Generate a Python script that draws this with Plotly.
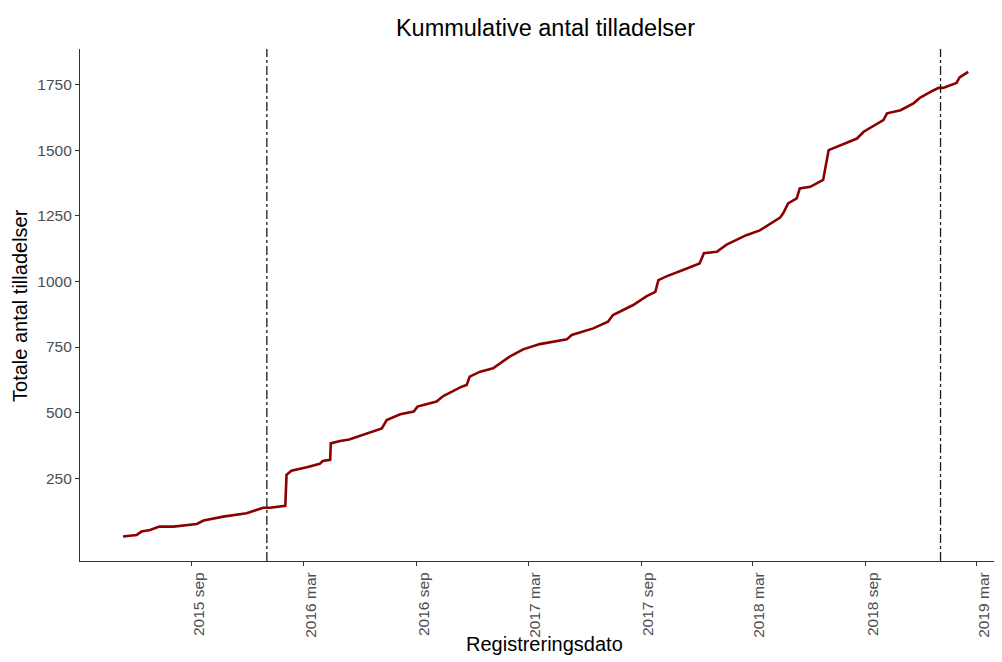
import plotly.graph_objects as go

# cumulative number of permits
dates = [
    "2015-05-12", "2015-06-03", "2015-06-11", "2015-06-25", "2015-07-10", "2015-08-02",
    "2015-09-09", "2015-09-20", "2015-10-22", "2015-11-29", "2015-12-15", "2015-12-26",
    "2016-01-06", "2016-01-31", "2016-02-02", "2016-02-10", "2016-03-06", "2016-03-27",
    "2016-04-01", "2016-04-13", "2016-04-14", "2016-04-29", "2016-05-14", "2016-06-11",
    "2016-07-06", "2016-07-14", "2016-08-05", "2016-08-27", "2016-09-02", "2016-10-03",
    "2016-10-14", "2016-11-13", "2016-11-21", "2016-11-26", "2016-12-13", "2017-01-03",
    "2017-01-30", "2017-02-21", "2017-03-20", "2017-05-03", "2017-05-11", "2017-06-15",
    "2017-07-09", "2017-07-17", "2017-08-19", "2017-09-10", "2017-09-24", "2017-09-29",
    "2017-10-13", "2017-11-08", "2017-12-05", "2017-12-12", "2018-01-02", "2018-01-18",
    "2018-02-19", "2018-03-13", "2018-04-15", "2018-04-20", "2018-04-28", "2018-05-12",
    "2018-05-17", "2018-06-03", "2018-06-24", "2018-07-03", "2018-07-16", "2018-08-18",
    "2018-08-29", "2018-09-30", "2018-10-06", "2018-10-28", "2018-11-18", "2018-11-29",
    "2018-12-21", "2018-12-29", "2019-01-05", "2019-01-27", "2019-02-01", "2019-02-15",
]
totals = [
    28, 34, 47, 53, 66, 66,
    76, 89, 104, 117, 129, 138,
    138, 145, 263, 279, 292, 305,
    316, 320, 383, 392, 398, 421,
    440, 472, 494, 504, 523, 542,
    563, 599, 605, 637, 656, 669,
    713, 741, 761, 779, 796, 821,
    846, 872, 910, 944, 960, 1005,
    1020, 1043, 1068, 1107, 1113, 1140,
    1176, 1194, 1243, 1259, 1297, 1316,
    1354, 1360, 1386, 1500, 1512, 1544,
    1570, 1614, 1640, 1652, 1678, 1700,
    1728, 1737, 1737, 1756, 1777, 1798,
]

marker_dates = ["2016-01-01", "2019-01-01"]

tick_dates = ["2015-09-01", "2016-03-01", "2016-09-01", "2017-03-01",
              "2017-09-01", "2018-03-01", "2018-09-01", "2019-03-01"]
tick_text = ["2015 sep", "2016 mar", "2016 sep", "2017 mar",
             "2017 sep", "2018 mar", "2018 sep", "2019 mar"]
y_ticks = [250, 500, 750, 1000, 1250, 1500, 1750]

fig = go.Figure()

fig.add_trace(go.Scatter(
    x=dates, y=totals, mode="lines",
    line=dict(color="#8B0000", width=2.6),
    showlegend=False, hoverinfo="x+y",
))

for d in marker_dates:
    fig.add_vline(x=d, line=dict(color="#1a1a1a", width=1.3, dash="dashdot"))

font = "Liberation Sans, Arial, sans-serif"

# page body has an 8px margin, so the figure is 8px smaller and margins shifted
fig.update_layout(
    width=994, height=654,
    margin=dict(l=72, r=0, t=41, b=101),
    paper_bgcolor="white", plot_bgcolor="white",
    font=dict(family=font, color="black"),
    title=dict(text="Kummulative antal tilladelser", x=0.5407, xanchor="center",
               y=0.9702, yanchor="middle", yref="container",
               font=dict(size=23.5, color="black")),
    showlegend=False,
)

# axis titles as annotations so the margins stay fixed
fig.add_annotation(text="Registreringsdato", xref="paper", yref="paper",
                   x=0.5043, y=-0.162, xanchor="center", yanchor="middle",
                   showarrow=False, font=dict(size=20, color="black"))
fig.add_annotation(text="Totale antal tilladelser", xref="paper", yref="paper",
                   x=-0.0651, y=0.5, xanchor="center", yanchor="middle", textangle=-90,
                   showarrow=False, font=dict(size=20, color="black"))

fig.update_xaxes(
    range=["2015-03-03", "2019-04-11"], automargin=False,
    tickvals=tick_dates, ticktext=tick_text, tickangle=-90, ticklabelshift=7,
    tickfont=dict(size=15.5, color="#4d4d4d"),
    ticks="outside", ticklen=4, tickwidth=1, tickcolor="#333333",
    showline=True, linecolor="#333333", linewidth=1.2,
    showgrid=False, zeroline=False,
)

fig.update_yaxes(
    range=[-65, 1885], automargin=False,
    tickvals=y_ticks,
    tickfont=dict(size=15.5, color="#4d4d4d"),
    ticks="outside", ticklen=4, tickwidth=1, tickcolor="#333333",
    showline=True, linecolor="#333333", linewidth=1.2,
    showgrid=False, zeroline=False,
)

fig.write_html("out.html")
